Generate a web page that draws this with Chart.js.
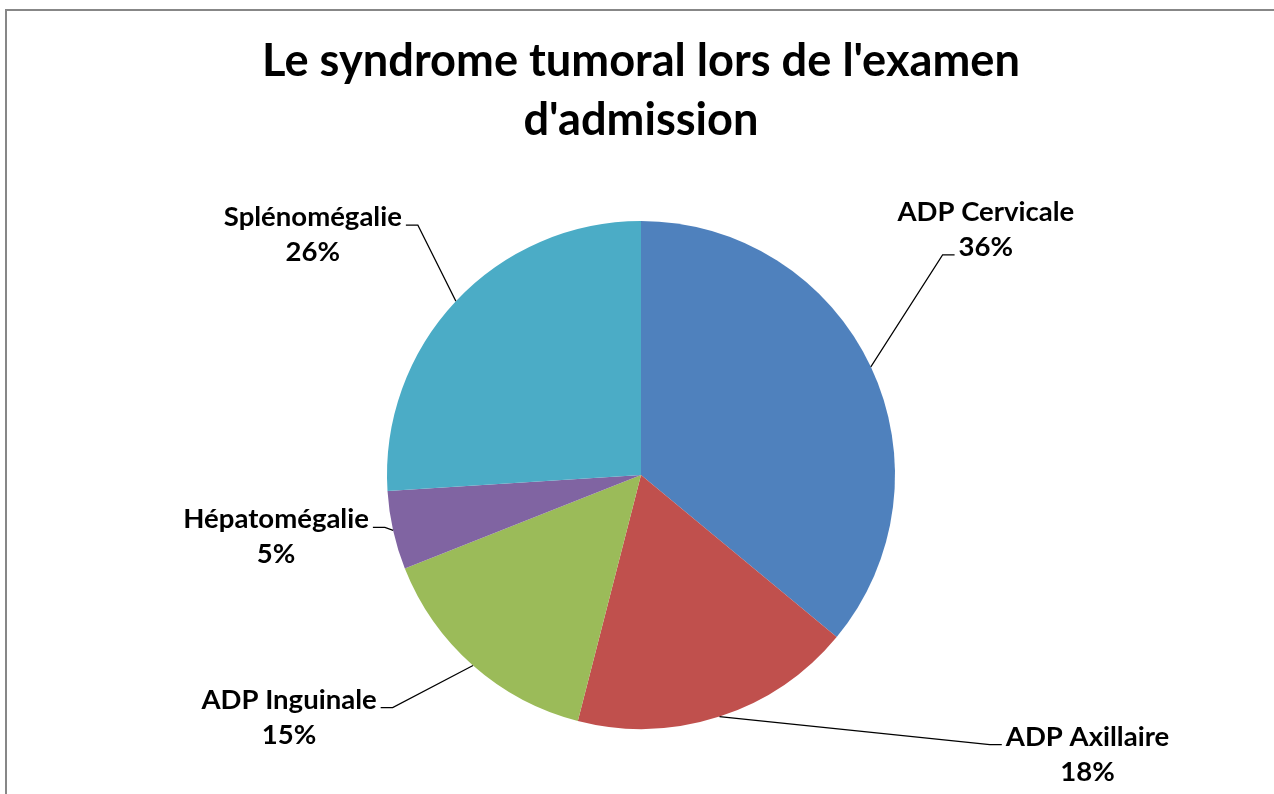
<!DOCTYPE html>
<html>
<head>
<meta charset="utf-8">
<script src="https://cdn.jsdelivr.net/npm/chart.js@4.4.1/dist/chart.umd.min.js"></script>
<style>
  html, body { margin: 0; padding: 0; background: #ffffff; }
  #wrap { width: 1274px; height: 794px; position: relative; }
</style>
</head>
<body>
<div id="wrap"><canvas id="c" width="1274" height="794"></canvas></div>
<script>
// ---- data ----
const categories = ['ADP Cervicale', 'ADP Axillaire', 'ADP Inguinale', 'Hépatomégalie', 'Splénomégalie'];
const values = [36, 18, 15, 5, 26];
const titleLines = ["Le syndrome tumoral lors de l'examen", "d'admission"];

// ---- style / layout ----
const colors = ['#4F81BD', '#C0504D', '#9BBB59', '#8064A2', '#4BACC6'];
const FAMILY = 'Lato, "Open Sans", sans-serif';
// label block offsets (block centre relative to arc outer mid-point)
const labelOffsets = [[115, -138], [368, 37], [-184, 51], [-117, 6], [-143, -67]];
const labelAttachLine = [1, 0, 0, 0, 0];

function fitSize(text, targetW) {
  const ctx = document.createElement('canvas').getContext('2d');
  ctx.font = 'bold 100px ' + FAMILY;
  return 100 * targetW / ctx.measureText(text).width;
}
const titleSize = fitSize(titleLines[0], 758);
const labelSize = fitSize('ADP Cervicale', 177);

const borderPlugin = {
  id: 'frame',
  beforeDraw(chart) {
    const ctx = chart.ctx;
    ctx.save();
    ctx.fillStyle = '#ffffff';
    ctx.fillRect(0, 0, chart.width, chart.height);
    ctx.strokeStyle = '#878787';
    ctx.lineWidth = 2;
    ctx.strokeRect(6, 10, chart.width + 20, chart.height + 20);
    ctx.restore();
  }
};

const labelPlugin = {
  id: 'outLabels',
  afterDatasetsDraw(chart) {
    const ctx = chart.ctx;
    const meta = chart.getDatasetMeta(0);
    const data = chart.data.datasets[0].data;
    const total = data.reduce((a, b) => a + b, 0);
    ctx.save();
    ctx.font = 'bold ' + labelSize + 'px ' + FAMILY;
    const capH = ctx.measureText('H').actualBoundingBoxAscent;
    const lineGap = 35;
    meta.data.forEach((arc, i) => {
      const p = arc.getProps(['x', 'y', 'startAngle', 'endAngle', 'outerRadius'], true);
      const mid = (p.startAngle + p.endAngle) / 2;
      const ax = p.x + Math.cos(mid) * p.outerRadius;
      const ay = p.y + Math.sin(mid) * p.outerRadius;
      const cx = ax + labelOffsets[i][0];
      const cy = ay + labelOffsets[i][1];
      const lines = [chart.data.labels[i], Math.round(data[i] / total * 100) + '%'];
      const baselines = [cy - lineGap / 2 + capH / 2, cy + lineGap / 2 + capH / 2];
      ctx.fillStyle = '#000000';
      ctx.textAlign = 'center';
      ctx.textBaseline = 'alphabetic';
      lines.forEach((t, k) => ctx.fillText(t, cx, baselines[k]));
      // leader line
      const k = labelAttachLine[i];
      const w = ctx.measureText(lines[k]).width;
      const rightSide = cx > p.x;
      const endX = rightSide ? cx - w / 2 - 4 : cx + w / 2 + 4;
      const ly = baselines[k] - 1;
      const elbowX = rightSide ? endX - 12 : endX + 12;
      ctx.strokeStyle = '#000000';
      ctx.lineWidth = 1.2;
      ctx.beginPath();
      ctx.moveTo(ax, ay);
      ctx.lineTo(elbowX, ly);
      ctx.lineTo(endX, ly);
      ctx.stroke();
    });
    ctx.restore();
  }
};

new Chart(document.getElementById('c'), {
  type: 'pie',
  data: {
    labels: categories,
    datasets: [{
      data: values,
      backgroundColor: colors,
      borderWidth: 0
    }]
  },
  options: {
    responsive: false,
    animation: false,
    layout: { padding: { top: 0, left: 8, right: 0, bottom: 65 } },
    plugins: {
      legend: { display: false },
      tooltip: { enabled: false },
      title: {
        display: true,
        text: titleLines,
        color: '#000000',
        font: { family: FAMILY, weight: 'bold', size: titleSize, lineHeight: '59px' },
        padding: { top: 32, bottom: 71 }
      }
    }
  },
  plugins: [borderPlugin, labelPlugin]
});
</script>
</body>
</html>
